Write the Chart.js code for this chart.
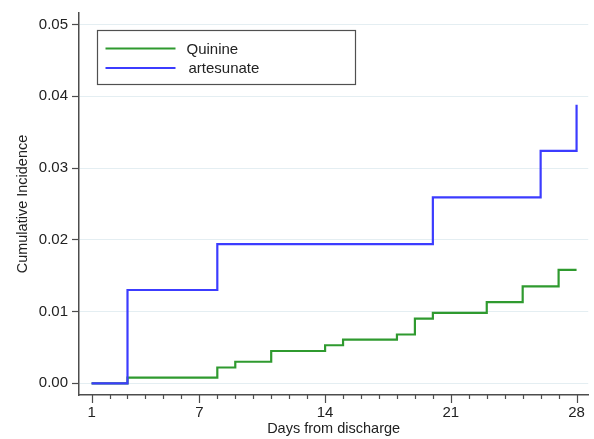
<!DOCTYPE html>
<html><head><meta charset="utf-8">
<script src="https://cdn.jsdelivr.net/npm/chart.js@4"></script>
<style>html,body{margin:0;padding:0;background:#fff}canvas{display:block}</style>
</head><body>
<canvas id="c" width="594" height="439"></canvas>
<script>
// ---- data ----
const quinineDays = [1, 3, 8, 9, 11, 14, 15, 18, 19, 20, 23, 25, 27, 28];
const quinineValues = [0, 0.0008, 0.0022, 0.0030, 0.0045, 0.0053, 0.0061, 0.0068, 0.0090, 0.0098, 0.0113, 0.0135, 0.0158, 0.0158];
const artesunateDays = [1, 3, 8, 20, 26, 28];
const artesunateValues = [0, 0.0130, 0.0194, 0.0259, 0.0324, 0.0388];
const seriesNames = ['Quinine', 'artesunate'];
const xTickValues = [1,2,3,4,5,6,7,8,9,10,11,12,13,14,15,16,17,18,19,20,21,22,23,24,25,26,27,28];
const xLabelledTicks = [1, 7, 14, 21, 28];
const yTickValues = [0, 0.01, 0.02, 0.03, 0.04, 0.05];
const xTitle = 'Days from discharge';
const yTitle = 'Cumulative Incidence';

// ---- styles ----
const FONT = "'Liberation Sans', Arial, Helvetica, sans-serif";
const TXT = '#222222';
const AXIS = '#4d4d4d';
const GRID = '#e4eef2';
const GREEN = '#2f9a2f';
const BLUE = '#3c3cff';

const xTickPlugin = {
  id: 'xticks',
  afterDraw(chart) {
    const s = chart.scales.x, c = chart.ctx;
    c.save();
    c.strokeStyle = AXIS; c.lineWidth = 1.2;
    xTickValues.forEach(v => {
      const px = Math.round(s.getPixelForValue(v)) + 0.5;
      const len = xLabelledTicks.includes(v) ? 8 : 4;
      c.beginPath(); c.moveTo(px, s.top); c.lineTo(px, s.top + len); c.stroke();
    });
    c.restore();
  }
};

const legendPlugin = {
  id: 'boxLegend',
  afterDraw(chart) {
    const a = chart.chartArea, c = chart.ctx;
    const x0 = Math.round(a.left + 18) + 0.5, y0 = Math.round(a.top + 17) + 0.5, w = 258, h = 54;
    c.save();
    c.fillStyle = '#fff'; c.fillRect(x0, y0, w, h);
    c.strokeStyle = '#505050'; c.lineWidth = 1.2; c.strokeRect(x0, y0, w, h);
    chart.data.datasets.forEach((ds, i) => {
      const y = y0 + 18 + i * 19.4;
      c.strokeStyle = ds.borderColor; c.lineWidth = 2;
      c.beginPath(); c.moveTo(x0 + 8, y); c.lineTo(x0 + 78, y); c.stroke();
      c.fillStyle = TXT; c.font = '15px ' + FONT; c.textBaseline = 'middle'; c.textAlign = 'left';
      c.fillText(ds.label, x0 + 89 + (i ? 2 : 0), y + 1);
    });
    c.restore();
  }
};

const ctx = document.getElementById('c').getContext('2d');
new Chart(ctx, {
  type: 'line',
  data: {
    datasets: [
      { label: seriesNames[0], data: quinineDays.map((d, i) => ({ x: d, y: quinineValues[i] })),
        borderColor: GREEN, borderWidth: 2.2, stepped: 'before', pointRadius: 0, fill: false, order: 2 },
      { label: seriesNames[1], data: artesunateDays.map((d, i) => ({ x: d, y: artesunateValues[i] })),
        borderColor: BLUE, borderWidth: 2.2, stepped: 'before', pointRadius: 0, fill: false, order: 1 }
    ]
  },
  options: {
    responsive: false, animation: false,
    layout: { padding: { top: 12, right: 4, left: 0, bottom: 0 } },
    plugins: { legend: { display: false }, tooltip: { enabled: false } },
    scales: {
      x: {
        type: 'linear', min: 0.3, max: 28.65,
        afterBuildTicks: s => { s.ticks = xTickValues.map(v => ({ value: v })); },
        ticks: { autoSkip: false, maxRotation: 0, padding: 9, color: TXT,
          font: { family: FONT, size: 15 },
          callback: v => xLabelledTicks.includes(v) ? String(v) : '' },
        grid: { display: true, drawOnChartArea: false, drawTicks: false },
        border: { display: true, color: AXIS, width: 1.5 },
        title: { display: true, text: xTitle, color: TXT, font: { family: FONT, size: 14.5 }, padding: { top: 0, bottom: 1 } },
        afterFit: s => { s.height = 44; }
      },
      y: {
        type: 'linear', min: -0.00163, max: 0.0516,
        afterBuildTicks: s => { s.ticks = yTickValues.map(v => ({ value: v })); },
        ticks: { padding: 4, color: TXT, font: { family: FONT, size: 15 }, callback: v => Number(v).toFixed(2) },
        grid: { color: GRID, lineWidth: 1, tickColor: AXIS, tickLength: 7, tickWidth: 1.2 },
        border: { display: true, color: AXIS, width: 1.5 },
        title: { display: true, text: yTitle, color: TXT, font: { family: FONT, size: 14.5 }, padding: { top: 14, bottom: 0 } },
        afterFit: s => { s.width = 79; }
      }
    }
  },
  plugins: [xTickPlugin, legendPlugin]
});
</script>
</body></html>
